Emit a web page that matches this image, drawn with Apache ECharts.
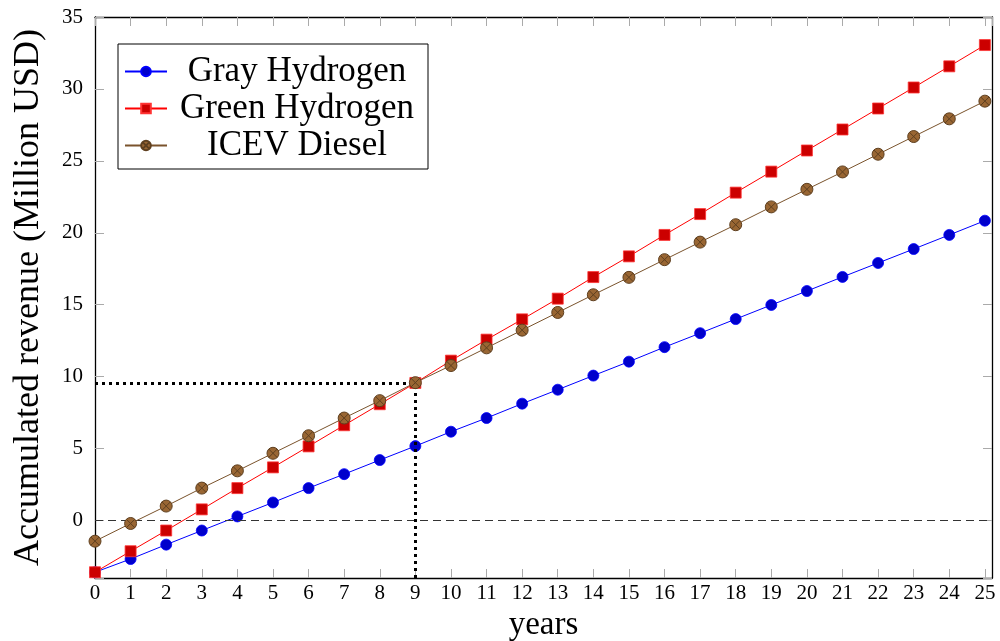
<!DOCTYPE html>
<html>
<head>
<meta charset="utf-8">
<script src="https://cdn.jsdelivr.net/npm/echarts@6/dist/echarts.min.js"></script>
<style>
  html, body { margin: 0; padding: 0; background: #fff; }
  #chart { width: 1000px; height: 641px; }
</style>
</head>
<body>
<div id="chart"></div>
<script>
// data
var years = [0,1,2,3,4,5,6,7,8,9,10,11,12,13,14,15,16,17,18,19,20,21,22,23,24,25];
var grayHydrogen = [-3.6,-2.68,-1.68,-0.70,0.28,1.25,2.25,3.22,4.20,5.17,6.17,7.12,8.12,9.09,10.07,11.04,12.05,13.02,14.0,14.98,15.95,16.93,17.90,18.87,19.85,20.84];
var greenHydrogen = [-3.6,-2.14,-0.70,0.77,2.25,3.69,5.15,6.62,8.08,9.56,11.11,12.57,13.98,15.42,16.92,18.36,19.85,21.3,22.79,24.25,25.72,27.18,28.64,30.1,31.57,33.05];
var icevDiesel = [-1.44,-0.21,1.0,2.25,3.45,4.67,5.89,7.12,8.33,9.58,10.77,12.0,13.23,14.46,15.69,16.9,18.13,19.35,20.56,21.8,23.02,24.23,25.46,26.69,27.92,29.15];
var breakEven = [9, 9.56];

var serif = '"Liberation Serif", "DejaVu Serif", serif';
// circle with a cross in it (pgfplots otimes*)
var otimes = 'path://M0,10A10,10 0 1,1 20,10A10,10 0 1,1 0,10Z M2.93,2.93L17.07,17.07 M17.07,2.93L2.93,17.07';

function pairs(ys) {
    var out = [];
    for (var i = 0; i < years.length; i++) {
        out.push([years[i], ys[i]]);
    }
    return out;
}

var myChart = echarts.init(document.getElementById('chart'));

var axisLine = { onZero: false, lineStyle: { color: '#000', width: 1.3 } };
var axisTick = { inside: true, length: 9, lineStyle: { color: '#aaa' } };

var option = {
    animation: false,
    backgroundColor: '#fff',
    grid: { left: 95, right: 8, top: 17, bottom: 63, containLabel: false, outerBoundsMode: 'none' },
    legend: {
        orient: 'vertical',
        left: 118,
        top: 44,
        itemWidth: 42,
        itemHeight: 12,
        itemGap: 2,
        padding: [10, 6, 6, 6],
        borderColor: '#000',
        borderWidth: 1,
        backgroundColor: '#fff',
        formatter: function (name) { return '{t|' + name + '}'; },
        textStyle: {
            rich: {
                t: { fontFamily: serif, fontSize: 35, color: '#000', width: 250, align: 'center', lineHeight: 40 }
            }
        },
        data: ['Gray Hydrogen', 'Green Hydrogen', 'ICEV Diesel']
    },
    xAxis: [{
        type: 'value',
        min: 0,
        max: 25.2,
        interval: 1,
        name: 'years',
        nameLocation: 'middle',
        nameGap: 25,
        nameTextStyle: { fontFamily: serif, fontSize: 33, color: '#000' },
        axisLine: axisLine,
        axisTick: axisTick,
        axisLabel: { fontFamily: serif, fontSize: 21, color: '#000', margin: 5, showMaxLabel: false },
        splitLine: { show: false }
    }, {
        type: 'value',
        position: 'top',
        min: 0,
        max: 25.2,
        interval: 1,
        axisLine: axisLine,
        axisTick: axisTick,
        axisLabel: { show: false },
        splitLine: { show: false }
    }],
    yAxis: [{
        type: 'value',
        min: -4,
        max: 35,
        splitNumber: 8,
        name: 'Accumulated revenue (Million USD)',
        nameLocation: 'middle',
        nameGap: 48,
        nameTextStyle: { fontFamily: serif, fontSize: 36, color: '#000' },
        axisLine: axisLine,
        axisTick: axisTick,
        axisLabel: {
            fontFamily: serif, fontSize: 21, color: '#000', margin: 12,
            formatter: function (v) { return v % 5 === 0 ? String(v) : ''; }
        },
        splitLine: { show: false }
    }, {
        type: 'value',
        position: 'right',
        min: -4,
        max: 35,
        splitNumber: 8,
        axisLine: axisLine,
        axisTick: axisTick,
        axisLabel: { show: false },
        splitLine: { show: false }
    }],
    series: [{
        name: 'Gray Hydrogen',
        type: 'line',
        data: pairs(grayHydrogen),
        symbol: 'circle',
        symbolSize: 11,
        lineStyle: { color: '#0000ff', width: 1 },
        itemStyle: { color: '#0000cc', borderColor: '#0000ff', borderWidth: 0.8 },
        z: 3,
        markLine: {
            silent: true,
            symbol: 'none',
            label: { show: false },
            lineStyle: { color: '#333', type: [8, 5], width: 1 },
            data: [{ yAxis: 0 }]
        }
    }, {
        name: 'Green Hydrogen',
        type: 'line',
        data: pairs(greenHydrogen),
        symbol: 'rect',
        symbolSize: 11,
        lineStyle: { color: '#ff0000', width: 1 },
        itemStyle: { color: '#cc0000', borderColor: '#ff3333', borderWidth: 0.8 },
        z: 4,
        markLine: {
            silent: true,
            symbol: 'none',
            label: { show: false },
            lineStyle: { color: '#000', type: [3, 4], width: 3 },
            data: [
                [{ coord: [0, breakEven[1]] }, { coord: [breakEven[0], breakEven[1]] }],
                [{ coord: [breakEven[0], -4] }, { coord: [breakEven[0], breakEven[1]] }]
            ]
        }
    }, {
        name: 'ICEV Diesel',
        type: 'line',
        data: pairs(icevDiesel),
        symbol: otimes,
        symbolSize: 12,
        lineStyle: { color: '#7a532c', width: 1 },
        itemStyle: { color: '#996633', borderColor: '#5e3f1f', borderWidth: 1 },
        z: 5
    }]
};

myChart.setOption(option);
</script>
</body>
</html>
